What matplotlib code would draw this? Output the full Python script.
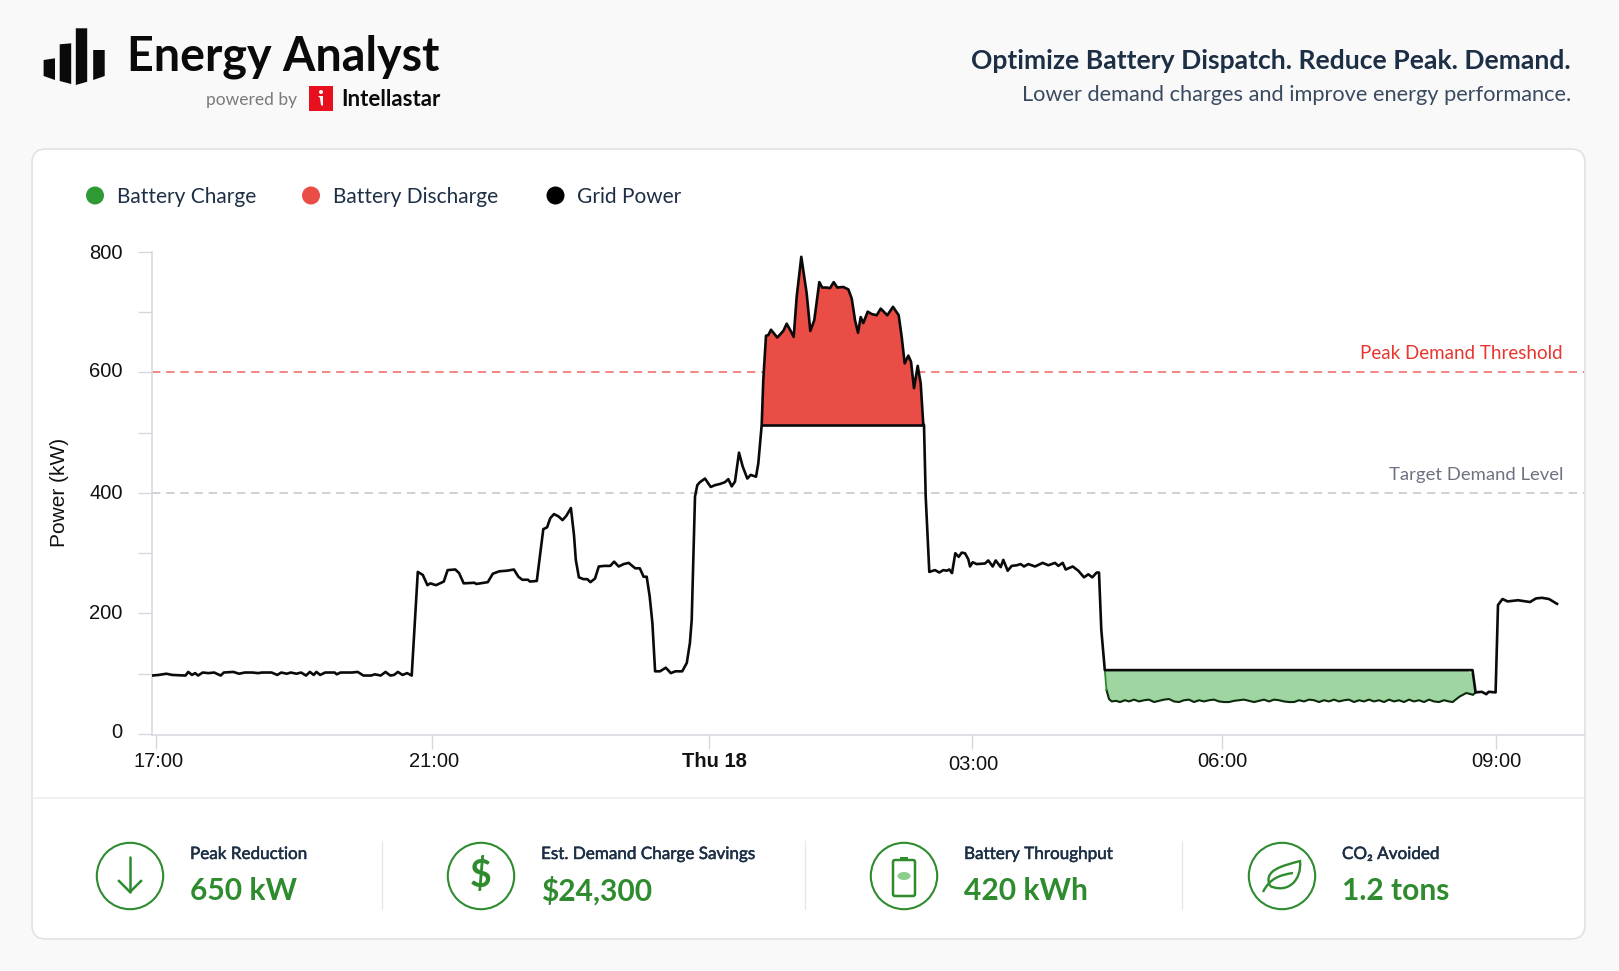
"""Battery dispatch dashboard: grid power with peak shaving and off-peak charging.

    python3 plot.py

Samples run along x at roughly 39 s apart, starting at 17:00.
"""
import matplotlib
matplotlib.use("Agg")
import matplotlib.patheffects as pe
import matplotlib.pyplot as plt
import numpy as np
from matplotlib.patches import Circle, Ellipse, FancyBboxPatch, PathPatch, Polygon
from matplotlib.path import Path
from matplotlib.transforms import offset_copy

W, H = 1619, 971

INK, BODY = "#1d2f45", "#3a4a5f"
GREEN, RED = "#2e8b2e", "#ea4c46"
BG, BORDER, AXIS = "#f9f9fa", "#e2e3e8", "#d6d7de"

HEADLINE = "Optimize Battery Dispatch. Reduce Peak. Demand."
SUBHEAD = "Lower demand charges and improve energy performance."

LEGEND_LABELS = ["Battery Charge", "Battery Discharge", "Grid Power"]
LEGEND_COLORS = ["#2f9a34", "#ea4c46", "#000000"]

Y_TICKS = [0, 200, 400, 600, 800]
Y_MINOR = [100, 300, 500, 700]
X_TICKS = [0, 276, 553, 816, 1066, 1340]
X_LABELS = ["17:00", "21:00", "Thu 18", "03:00", "06:00", "09:00"]

PEAK_THRESHOLD = 600
TARGET_LEVEL = 400
DISCHARGE_FLOOR = 513

sample = [
    -3.8, 2.7, 10.4, 16.1, 29.5, 32.2, 36, 39.1, 42.1, 46.7, 52.5, 58.2, 64.7, 67.8, 77.3, 83.1,
    88.8, 96.5, 102.2, 106, 115.6, 121.3, 125.2, 130.9, 134.7, 140.5, 145.1, 150, 153.9, 157.7,
    160.4, 164.2, 169.2, 178.7, 180.7, 184.5, 192.1, 196, 201.7, 207.4, 215.1, 218.9, 224.7,
    229.6, 234.2, 238.1, 241.9, 246.5, 251.1, 255.7,
    258, 261.8, 266.8, 271.4, 274.4, 280, 287.8, 291.6, 299.3, 303.1, 307.7, 318.4, 320.3, 331.8,
    336.8, 343.3, 351, 357.9, 362.4, 366.3, 372, 373.9, 380.8, 387.3, 391.1, 394.2, 398, 402.6,
    406.5, 410.3, 414.9, 418, 419.8, 422.9, 427.5, 431.3, 434.4, 439, 442.8, 448.5, 454.3, 458.1,
    462.7, 467.7, 472.7, 479.2, 483.8, 487.6, 490.7, 493.7, 496.4, 499.1, 504, 509.8, 514.8,
    519.4, 526.2, 530.8, 533.9, 535.7, 539, 541.3, 544, 549, 554.7, 559, 564, 569, 572.3, 575.7,
    579, 583, 586.7, 591.3, 594.7, 600, 602.3, 604.7,
    605.7, 607.3, 610, 612.3, 615, 621.3, 627.3, 630.7, 634.7, 637.7, 640.7, 645.3, 650.7, 654.3,
    658.3, 663.3, 666.3, 670.7, 674, 677.7, 681.3, 687.3, 692.3, 695.7, 699, 702, 704.7, 707.3,
    711.7, 715.7, 720.7, 724.7, 731.3, 737, 742.7, 745.7, 748.7, 752.3, 755, 758, 761.7, 764.7,
    767.3,
    768, 769.7, 773.3, 779, 783.3, 787.3, 790.7, 793.3, 796, 799.3, 802.7, 805.7, 809, 812.3, 814,
    816.7, 820.7, 829, 832.3, 836.7, 839.7, 844.7, 847.3, 851.7, 855.7, 860.7, 864.7, 868, 872.3,
    879, 886.7, 892.3, 899, 902.3, 906.7, 909.7, 916.7, 922.3, 928, 932.3, 936.3, 940.7, 943,
    945.3, 948.8, 1316.5, 1319.6, 1325.8, 1330.3, 1332.7, 1339.6, 1342, 1346.5, 1351.6, 1362,
    1374, 1380, 1386, 1393, 1401,
]
grid_power = [
    97, 98, 100, 98, 97, 103, 98, 101, 97, 102, 101, 102, 97, 102, 103, 100,
    102, 102, 101, 102, 102, 98, 102, 100, 102, 100, 102, 97, 103, 98,
    103, 98, 102, 102, 99, 102, 102, 102, 103, 97, 97, 99, 97, 103, 97, 98, 103, 98, 101, 97,
    162, 269, 264, 247, 250, 247, 253, 272, 273, 267, 250, 251, 249, 252,
    266, 270, 271, 273, 261, 256, 256, 253, 254, 340, 343, 358, 365, 361,
    355, 362, 375, 330, 289, 260, 257, 257, 252, 258, 278, 279, 279, 286,
    278, 282, 284, 275, 275, 261, 261, 228, 184, 104, 104, 110, 101,
    104, 104, 118, 151, 189, 394, 413, 418, 424, 410, 413, 415, 418, 423, 411,
    419, 467, 444, 424, 430, 427, 449, 494,
    513, 588, 661, 662, 671, 658, 669, 681, 669, 659, 726, 792, 731, 669,
    687, 750, 741, 741, 740, 750, 741, 742, 738, 723, 687, 666, 692, 682,
    701, 697, 695, 706, 695, 709, 695, 659, 615, 628, 618, 574, 611, 582,
    513,
    513, 394, 269, 272, 268, 272, 271, 273, 267, 300, 294, 301, 300, 290, 278,
    285, 282, 283, 288, 278, 288, 277, 289, 271, 279, 280, 282, 278, 282,
    278, 284, 280, 284, 279, 284, 273, 278, 271, 260, 265, 260, 268, 268,
    173, 106, 106, 69, 70, 66, 70, 69, 214, 224, 220, 222,
    219, 225, 226, 224, 216,
]

# Load left on the grid while the battery charges, under the flat ceiling.
charge_sample = [
    948.8, 950.5, 953, 955.7, 960, 964, 969, 973, 978, 983, 988, 993, 998, 1003, 1008, 1013, 1018,
    1023, 1028, 1033, 1038, 1043, 1048, 1053, 1058, 1063, 1068, 1073, 1078, 1083, 1088, 1093, 1098,
    1103, 1108, 1113, 1118, 1123, 1128, 1133, 1138, 1143, 1148, 1153, 1158, 1163, 1168, 1173, 1178,
    1183, 1188, 1193, 1198, 1203, 1208, 1213, 1218, 1223, 1228, 1233, 1238, 1243, 1248, 1253, 1258,
    1263, 1268, 1273, 1278, 1283, 1288, 1293, 1296.6, 1303.5, 1310.3, 1317, 1319.6,
]
charge_load = [
    106, 73, 58, 54, 55, 53, 56, 54, 57, 54, 56, 57, 53, 55, 57, 58, 54,
    53, 56, 57, 53, 56, 54, 56, 57, 54, 53, 53, 55, 56, 57, 55, 53,
    55, 57, 54, 57, 56, 54, 53, 53, 56, 54, 57, 56, 53, 56, 54, 57,
    54, 56, 57, 53, 56, 54, 57, 54, 56, 53, 57, 54, 56, 53, 57, 54,
    56, 53, 57, 54, 53, 56, 54, 53, 62, 68, 65, 69,
]

STATS = [
    ("Peak Reduction", "650 kW", 130, 190),
    ("Est. Demand Charge Savings", "$24,300", 481, 541),
    ("Battery Throughput", "420 kWh", 904, 964),
    ("CO₂ Avoided", "1.2 tons", 1282, 1342),
]
DIVIDERS = [382, 805, 1182]


def _text(ax, x, y, s, size, color=INK, weight="normal", ha="left", family="Lato", stroke=0):
    t = ax.text(x, y, s, fontsize=size, color=color, fontweight=weight, ha=ha, va="center",
                family=[family, "DejaVu Sans"])
    if stroke:
        t.set_path_effects([pe.withStroke(linewidth=stroke, foreground=color)])
    return t


def draw_logo(bg):
    bars = [
        [(43.6, 60), (55, 58.3), (55, 80), (43.6, 76)],
        [(59.7, 44.3), (71.2, 43.3), (71.2, 84), (59.7, 81)],
        [(75.8, 28.3), (87.2, 28.3), (87.2, 81.7), (75.8, 85)],
        [(93.2, 50), (104.7, 50), (104.7, 76), (93.2, 80)],
    ]
    for b in bars:
        bg.add_patch(Polygon(b, closed=True, color="#0a0a0a", lw=0))
    _text(bg, 127, 57, "Energy Analyst", 33.6, "#0a0a0a", "bold")
    _text(bg, 297, 100, "powered by", 12.5, "#7a7a7a", ha="right")
    bg.add_patch(FancyBboxPatch((309, 86), 24, 25, boxstyle="square,pad=0", color="#e8101e", lw=0))
    bg.add_patch(Circle((321, 92), 2, color="white", lw=0))
    bg.add_patch(Polygon([(318, 96), (323, 96), (323, 106), (321, 105), (320, 98)],
                         color="white", lw=0))
    _text(bg, 341, 99, "Intellastar", 16, "#0a0a0a", "bold")


def draw_icons(bg):
    for _, _, cx, _ in STATS:
        bg.add_patch(Circle((cx, 876), 33.2, fill=False, ec=GREEN, lw=1.5))

    # down arrow
    cx = STATS[0][2]
    bg.plot([cx, cx], [857, 892], color=GREEN, lw=1.8, solid_capstyle="round")
    bg.plot([cx - 11, cx, cx + 11], [881, 892, 881], color=GREEN, lw=1.8)

    # dollar sign
    bg.text(STATS[1][2], 875, "$", fontsize=27, color=GREEN, ha="center", va="center",
            family="Lato", fontweight="bold")

    # battery with a small charge mark
    cx = STATS[2][2]
    bg.add_patch(FancyBboxPatch((cx - 11, 860), 22, 36, boxstyle="round,pad=0,rounding_size=2",
                                fill=False, ec=GREEN, lw=1.8))
    bg.add_patch(FancyBboxPatch((cx - 4, 857), 8, 3, boxstyle="square,pad=0", color=GREEN, lw=0))
    bg.add_patch(Ellipse((cx, 876), 13, 8, color="#8ccf8c", lw=0))

    # leaf outline and vein
    codes = [Path.MOVETO, Path.CURVE4, Path.CURVE4, Path.CURVE4, Path.CURVE4, Path.CURVE4, Path.CURVE4]
    leaf = [(1270, 886), (1263, 870), (1282, 866), (1300, 861), (1302, 880), (1288, 894), (1270, 886)]
    bg.add_patch(PathPatch(Path(leaf, codes), fill=False, ec=GREEN, lw=1.7))
    vein = [(1263, 892), (1270, 878), (1280, 875), (1293, 873)]
    bg.add_patch(PathPatch(Path(vein, [Path.MOVETO, Path.CURVE4, Path.CURVE4, Path.CURVE4]),
                           fill=False, ec=GREEN, lw=1.7))


def draw_frame(bg):
    bg.add_patch(FancyBboxPatch((32, 149), 1553, 790, boxstyle="round,pad=0,rounding_size=14",
                                fc="white", ec=BORDER, lw=1.3))
    bg.plot([32, 1585], [798, 798], color="#ececf0", lw=1.1)
    for x in DIVIDERS:
        bg.plot([x, x], [841, 909], color="#e8e8ec", lw=1.0)

    _text(bg, 1571, 61, HEADLINE, 19.1, INK, "bold", ha="right")
    _text(bg, 1571, 95, SUBHEAD, 15.7, BODY, ha="right")

    for x, tx, label, color in zip([95, 311, 555.5], [117, 333, 577], LEGEND_LABELS, LEGEND_COLORS):
        bg.add_patch(Circle((x, 195.5), 9, color=color, lw=0))
        _text(bg, tx, 197, label, 15.0, INK)

    for label, value, _, tx in STATS:
        _text(bg, tx, 854, label, 12.3, INK, stroke=0.35)
        _text(bg, tx, 891, value, 21.6, GREEN, "bold")


def draw_chart(ax):
    x = np.array(sample)
    y = np.array(grid_power)
    ax.axhline(PEAK_THRESHOLD, color="#f0726c", lw=1.2, ls=(0, (5, 3.5)), zorder=1)
    ax.axhline(TARGET_LEVEL, color="#c8c9d2", lw=1.2, ls=(0, (5, 3.5)), zorder=1)

    shaved = (x >= 605.7) & (x <= 767.3)
    ax.fill_between(x[shaved], y[shaved], DISCHARGE_FLOOR, color=RED, lw=0, zorder=2)
    # the fill stops at the grid line, which leaves the ceiling at both ends
    ceiling = np.interp(charge_sample, x, y)
    ax.fill_between(charge_sample, charge_load, ceiling, color="#9fd5a0", lw=0, zorder=2)

    ax.plot(x[shaved][[0, -1]], [DISCHARGE_FLOOR, DISCHARGE_FLOOR], color="#0a0a0a", lw=1.9, zorder=3)
    ax.plot(charge_sample[1:], charge_load[1:], color="#0d2a0d", lw=1.5, zorder=3)
    ax.plot(charge_sample[:2], charge_load[:2], color="#2b8a2b", lw=1.3, zorder=3)
    ax.plot(x, y, color="#0a0a0a", lw=1.9, zorder=4, solid_joinstyle="round")

    ax.set_xlim(-4, 1428)
    ax.set_ylim(-1.7, 800)
    ax.patch.set_alpha(0)
    for s in ("top", "right"):
        ax.spines[s].set_visible(False)
    for s in ("left", "bottom"):
        ax.spines[s].set_color(AXIS)
        ax.spines[s].set_linewidth(1.1)

    ax.set_yticks(Y_TICKS)
    ax.set_yticks(Y_MINOR, minor=True)
    ax.set_xticks(X_TICKS)
    ax.set_xticklabels(X_LABELS)
    ax.tick_params(axis="both", which="both", color=AXIS, length=10, width=1.0,
                   labelsize=14.5, labelcolor="#111111", labelfontfamily="Liberation Sans")
    ax.tick_params(axis="y", which="major", pad=11)
    ax.tick_params(axis="x", pad=4)
    ax.get_xticklabels()[2].set_fontweight("bold")

    # nudge tick labels off their default anchors, in pixels
    fig = ax.figure
    x_nudge = [(3, 2), (2, 2), (5, 2), (1, -1), (0, 2), (0, 2)]
    for label, (dx, dy) in zip(ax.get_xticklabels(), x_nudge):
        label.set_transform(offset_copy(label.get_transform(), fig=fig, x=dx, y=dy, units="dots"))
    y_nudge = [3, 2, 1, 3, 1]
    for label, dy in zip(ax.get_yticklabels(), y_nudge):
        label.set_transform(offset_copy(label.get_transform(), fig=fig, x=0, y=dy, units="dots"))

    ax.set_ylabel("Power (kW)", fontsize=15, color="#111111", family="Liberation Sans",
                  labelpad=15, y=0.503)

    ax.text(1407, 632, "Peak Demand Threshold", fontsize=13.5, color="#e8352e", ha="right",
            va="center", family="Lato")
    ax.text(1407, 430, "Target Demand Level", fontsize=13.3, color="#6d7280", ha="right",
            va="center", family="Lato")


def main():
    fig = plt.figure(figsize=(W / 100, H / 100), dpi=100)
    fig.patch.set_facecolor(BG)

    bg = fig.add_axes([0, 0, 1, 1], zorder=0)
    bg.set_xlim(0, W)
    bg.set_ylim(H, 0)
    bg.axis("off")

    ax = fig.add_axes([152 / W, 1 - 735 / H, (1584 - 152) / W, (735 - 252) / H], zorder=1)

    draw_frame(bg)
    draw_logo(bg)
    draw_icons(bg)
    draw_chart(ax)

    fig.savefig("out.png", dpi=100, facecolor=fig.get_facecolor())


if __name__ == "__main__":
    main()
